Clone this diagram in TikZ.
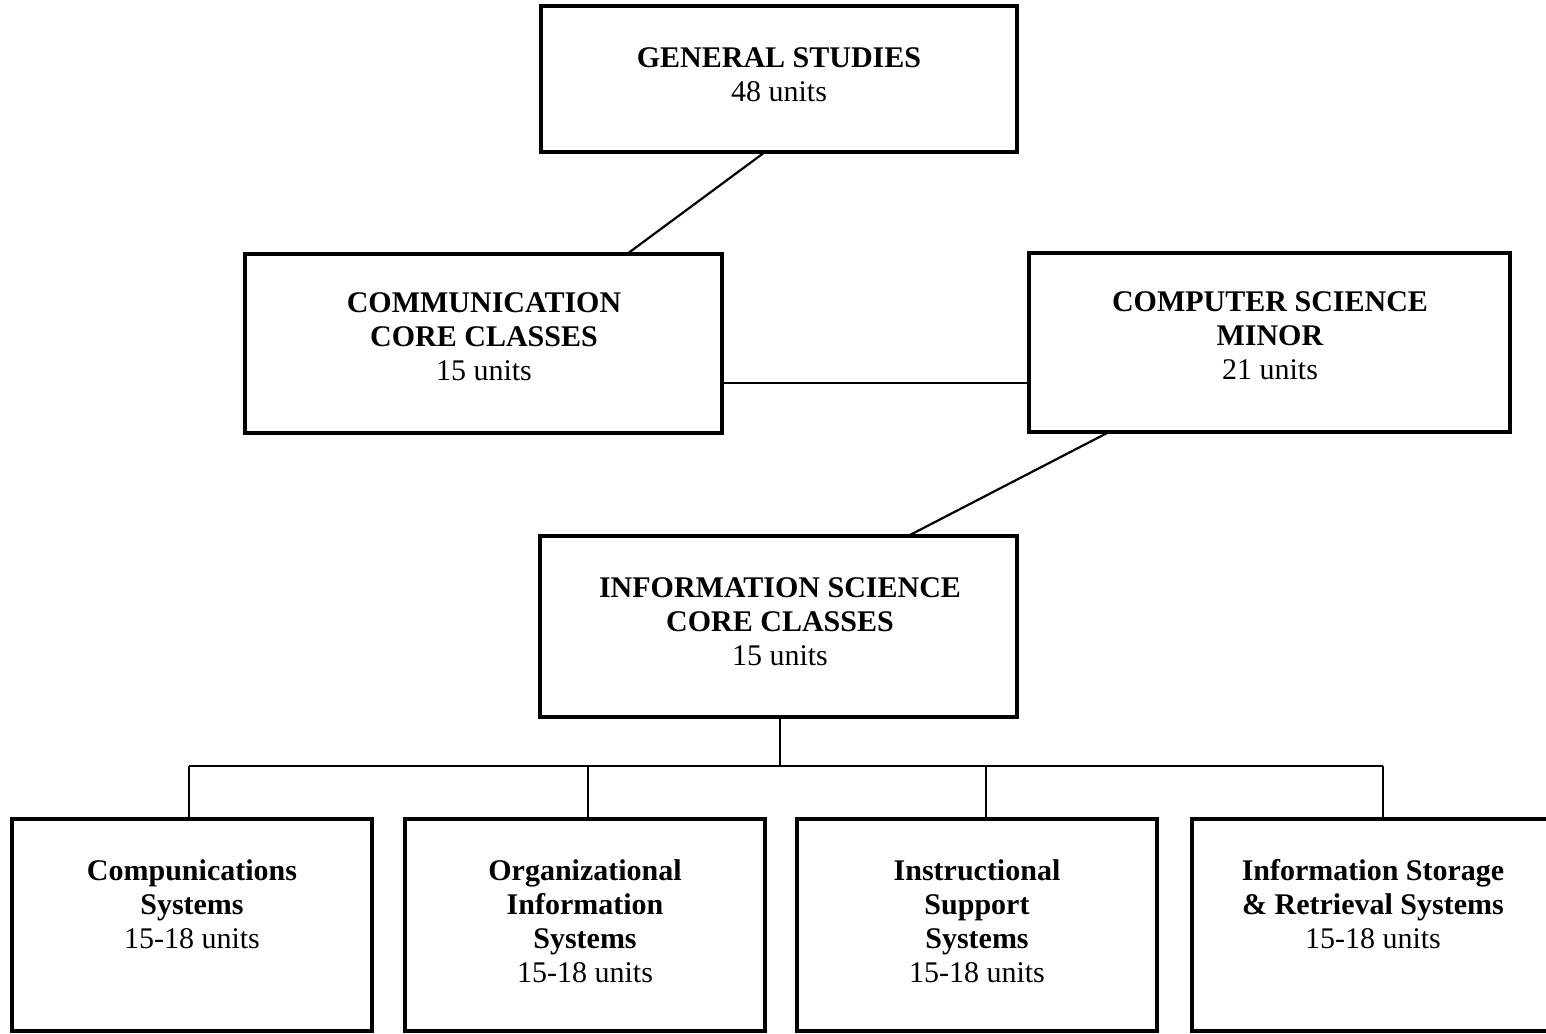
\documentclass[tikz,border=0pt]{standalone}
\usepackage{fontspec}
\setmainfont{Liberation Serif}
\usetikzlibrary{calc}
\begin{document}
\begin{tikzpicture}[x=0.5pt,y=-0.5pt,
  box/.style={draw, line width=1.6pt, inner sep=0pt, outer sep=0pt},
  conn/.style={line width=1.1pt},
  lbl/.style={align=center, inner sep=0pt, anchor=north, font=\fontsize{15}{17}\selectfont}]
\useasboundingbox (0,0) rectangle (1546,1033);
\clip (0,0) rectangle (1546,1033);
% boxes
\node[box, minimum width=238pt, minimum height=73pt] (gs) at (779,79) {};
\node[box, minimum width=238.5pt, minimum height=89.5pt] (cc) at (483.5,343.5) {};
\node[box, minimum width=240.5pt, minimum height=89.5pt] (cs) at (1269.5,342.5) {};
\node[box, minimum width=238.5pt, minimum height=90.5pt] (isc) at (778.5,626.5) {};
\node[box, minimum width=180pt, minimum height=106pt] (b1) at (192,925) {};
\node[box, minimum width=180pt, minimum height=106pt] (b2) at (585,925) {};
\node[box, minimum width=180pt, minimum height=106pt] (b3) at (977,925) {};
\node[box, minimum width=180pt, minimum height=106pt] (b4) at (1372,925) {};
% labels
\node[lbl] (gsl) at (779,47) {\textbf{GENERAL STUDIES}\\48 units};
\node[lbl] (ccl) at (484,292) {\textbf{COMMUNICATION}\\\textbf{CORE CLASSES}\\15 units};
\node[lbl] (csl) at (1270,291) {\textbf{COMPUTER SCIENCE}\\\textbf{MINOR}\\21 units};
\node[lbl] (iscl) at (780,577) {\textbf{INFORMATION SCIENCE}\\\textbf{CORE CLASSES}\\15 units};
\node[lbl] (b1l) at (192,859) {\textbf{Compunications}\\\textbf{Systems}\\15-18 units};
\node[lbl] (b2l) at (585,859) {\textbf{Organizational}\\\textbf{Information}\\\textbf{Systems}\\15-18 units};
\node[lbl] (b3l) at (977,859) {\textbf{Instructional}\\\textbf{Support}\\\textbf{Systems}\\15-18 units};
\node[lbl] (b4l) at (1373,859) {\textbf{Information Storage}\\\textbf{\& Retrieval Systems}\\15-18 units};
% connectors
\draw[conn] ($(gs.south)+(-14,0)$) -- ($(cc.north)+(143.5,0)$);
\draw[conn] ($(cc.east)+(0,39.5)$) -- ($(cs.west)+(0,40.5)$);
\draw[conn] ($(cs.south)+(-160.5,0)$) -- ($(isc.north)+(129.5,0)$);
\coordinate (bus) at (780,766);
\coordinate (j1) at (189,766);
\coordinate (j2) at (588,766);
\coordinate (j3) at (986,766);
\coordinate (j4) at (1383,766);
\draw[conn] ($(isc.south)+(1.5,0)$) -- (bus);
\draw[conn] (j1) -- (j4);
\draw[conn] (j1) -- (j1 |- b1.north);
\draw[conn] (j2) -- (j2 |- b2.north);
\draw[conn] (j3) -- (j3 |- b3.north);
\draw[conn] (j4) -- (j4 |- b4.north);
\end{tikzpicture}
\end{document}
